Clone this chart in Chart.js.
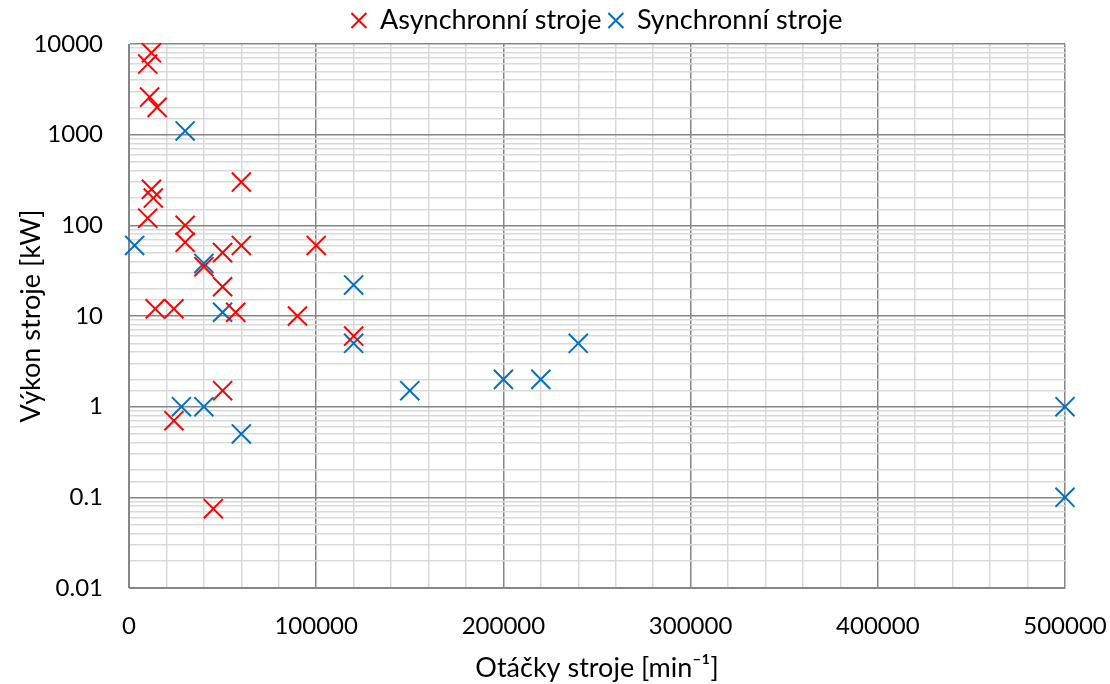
<!DOCTYPE html>
<html>
<head>
<meta charset="utf-8">
<script src="https://cdn.jsdelivr.net/npm/chart.js@4"></script>
<style>
  body { margin: 0; background: #fff; }
  #wrap { width: 1110px; height: 684px; }
</style>
</head>
<body>
<div id="wrap"><canvas id="chartStroje"></canvas></div>
<script>
// asynchronni stroje: otacky [min-1], vykon [kW]
const asynOtacky = [12000, 10000, 11000, 15000, 60000, 12000, 13000, 10000, 30000, 30000, 60000, 50000, 100000, 40000, 50000, 14000, 24000, 57000, 90000, 120000, 50000, 24000, 45000];
const asynVykon  = [8000, 6000, 2600, 2000, 300, 250, 200, 120, 100, 65, 60, 50, 60, 35, 21, 12, 12, 11, 10, 6, 1.5, 0.7, 0.075];

// synchronni stroje
const synOtacky = [30000, 3000, 40000, 120000, 50000, 120000, 28000, 40000, 60000, 150000, 200000, 220000, 240000, 500000, 500000];
const synVykon  = [1100, 60, 38, 22, 11, 5, 1, 1, 0.5, 1.5, 2, 2, 5, 1, 0.1];

const xTicks = [0, 100000, 200000, 300000, 400000, 500000];
const yTicks = [0.01, 0.1, 1, 10, 100, 1000, 10000];

const toPoints = (xs, ys) => xs.map((x, i) => ({ x: x, y: ys[i] }));

const dark = '#868686';
const light = '#d9d9d9';
const family = 'Lato, sans-serif';
const tickFont = { family: family, size: 24 };
const bigFont = { family: family, size: 27 };

const ctx = document.getElementById('chartStroje');

new Chart(ctx, {
  type: 'scatter',
  data: {
    datasets: [{
      label: 'Asynchronní stroje',
      data: toPoints(asynOtacky, asynVykon),
      pointStyle: 'crossRot',
      radius: 13.5,
      hoverRadius: 13.5,
      borderWidth: 2,
      borderColor: '#ff0000',
      backgroundColor: '#ff0000',
      clip: false
    }, {
      label: 'Synchronní stroje',
      data: toPoints(synOtacky, synVykon),
      pointStyle: 'crossRot',
      radius: 13.5,
      hoverRadius: 13.5,
      borderWidth: 2,
      borderColor: '#0070c0',
      backgroundColor: '#0070c0',
      clip: false
    }]
  },
  options: {
    responsive: true,
    maintainAspectRatio: false,
    animation: false,
    layout: { padding: { top: 0, right: 45, left: 15, bottom: 0 } },
    plugins: {
      tooltip: { enabled: false },
      legend: {
        position: 'top',
        fullSize: false,
        labels: {
          usePointStyle: true,
          pointStyle: 'crossRot',
          boxWidth: 15,
          boxHeight: 15,
          color: '#000',
          font: bigFont,
          padding: 7
        }
      }
    },
    scales: {
      x: {
        type: 'linear',
        min: 0,
        max: 500000,
        border: { color: dark, width: 1 },
        ticks: {
          stepSize: 20000,
          autoSkip: false,
          maxRotation: 0,
          color: '#000',
          font: tickFont,
          padding: 24,
          callback: v => xTicks.includes(v) ? String(v) : ''
        },
        grid: {
          color: c => (c.tick && c.tick.value % 100000 === 0) ? dark : light,
          lineWidth: 1.5,
          drawTicks: false
        },
        title: {
          display: true,
          text: 'Otáčky stroje [min⁻¹]',
          color: '#000',
          font: bigFont,
          padding: { top: 8, bottom: 0 }
        },
        afterFit: s => {
          s.height = 96;
          s.paddingLeft = 0;
          s.paddingRight = 0;
        }
      },
      y: {
        type: 'logarithmic',
        min: 0.01,
        max: 10000,
        border: { color: dark, width: 1 },
        ticks: {
          autoSkip: false,
          color: '#000',
          font: tickFont,
          padding: 26,
          callback: v => {
            const p = Math.log10(v);
            return Math.abs(p - Math.round(p)) < 1e-9 ? String(yTicks[Math.round(p) + 2]) : '';
          }
        },
        grid: {
          color: c => {
            if (!c.tick) return light;
            const p = Math.log10(c.tick.value);
            return Math.abs(p - Math.round(p)) < 1e-9 ? dark : light;
          },
          lineWidth: 1.5,
          drawTicks: false
        },
        title: {
          display: true,
          text: 'Výkon stroje [kW]',
          color: '#000',
          font: bigFont,
          padding: { top: 0, bottom: 0 }
        },
        afterFit: s => {
          s.width = 114;
          s.paddingTop = 0;
          s.paddingBottom = 0;
        }
      }
    }
  }
});
</script>
</body>
</html>
